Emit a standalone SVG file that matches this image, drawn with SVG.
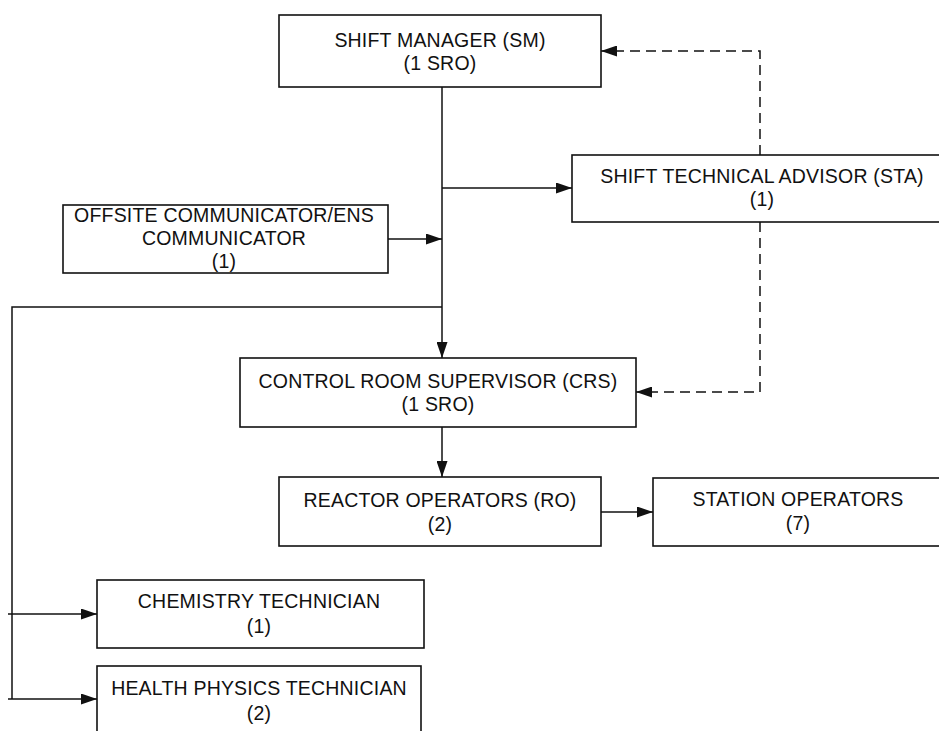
<svg xmlns="http://www.w3.org/2000/svg" width="939" height="731" viewBox="0 0 939 731">
<style>
.box{fill:#fff;stroke:#111;stroke-width:1.6}
.lbl{font-family:"Liberation Sans",Arial,sans-serif;font-size:19.5px;letter-spacing:0.2px;fill:#111;text-anchor:middle}
.cn{fill:none;stroke:#111;stroke-width:1.5}
.dash{stroke-dasharray:10 6}
</style>
<defs>
<marker id="ah" markerUnits="userSpaceOnUse" markerWidth="17" markerHeight="11" refX="16" refY="5.5" orient="auto">
<path d="M0,0 L16,5.5 L0,11 z" fill="#111"/>
</marker>
</defs>
<rect width="939" height="731" fill="#fff"/>
<g id="connectors">
<path class="cn" d="M442,87 V358" marker-end="url(#ah)"/>
<path class="cn" d="M442,188 H572" marker-end="url(#ah)"/>
<path class="cn" d="M388,239 H442" marker-end="url(#ah)"/>
<path class="cn" d="M442,307 H12 V699"/>
<path class="cn" d="M8,614 H97" marker-end="url(#ah)"/>
<path class="cn" d="M8,699 H97" marker-end="url(#ah)"/>
<path class="cn" d="M442,427 V477" marker-end="url(#ah)"/>
<path class="cn" d="M601,512 H653" marker-end="url(#ah)"/>
<path class="cn dash" d="M760,155 V51 H601" marker-end="url(#ah)"/>
<path class="cn dash" d="M760,222 V392 H636" marker-end="url(#ah)"/>
</g>
<g id="sm">
<rect class="box" x="279" y="15" width="322" height="72"/>
<text class="lbl" x="440" y="47">SHIFT MANAGER (SM)</text>
<text class="lbl" x="440" y="70">(1 SRO)</text>
</g>
<g id="sta">
<rect class="box" x="572" y="155" width="380" height="67"/>
<text class="lbl" x="762" y="183">SHIFT TECHNICAL ADVISOR (STA)</text>
<text class="lbl" x="762" y="206">(1)</text>
</g>
<g id="offsite">
<rect class="box" x="63" y="205" width="325" height="68"/>
<text class="lbl" x="224" y="222">OFFSITE COMMUNICATOR/ENS</text>
<text class="lbl" x="224" y="245">COMMUNICATOR</text>
<text class="lbl" x="224" y="268">(1)</text>
</g>
<g id="crs">
<rect class="box" x="240" y="358" width="396" height="69"/>
<text class="lbl" x="438" y="388">CONTROL ROOM SUPERVISOR (CRS)</text>
<text class="lbl" x="438" y="411">(1 SRO)</text>
</g>
<g id="ro">
<rect class="box" x="279" y="477" width="322" height="69"/>
<text class="lbl" x="440" y="507">REACTOR OPERATORS (RO)</text>
<text class="lbl" x="440" y="531">(2)</text>
</g>
<g id="station">
<rect class="box" x="653" y="478" width="292" height="68"/>
<text class="lbl" x="798" y="506">STATION OPERATORS</text>
<text class="lbl" x="798" y="530">(7)</text>
</g>
<g id="chem">
<rect class="box" x="97" y="580" width="327" height="68"/>
<text class="lbl" x="259" y="608">CHEMISTRY TECHNICIAN</text>
<text class="lbl" x="259" y="633">(1)</text>
</g>
<g id="health">
<rect class="box" x="97" y="666" width="324" height="80"/>
<text class="lbl" x="259" y="695">HEALTH PHYSICS TECHNICIAN</text>
<text class="lbl" x="259" y="720">(2)</text>
</g>
</svg>
